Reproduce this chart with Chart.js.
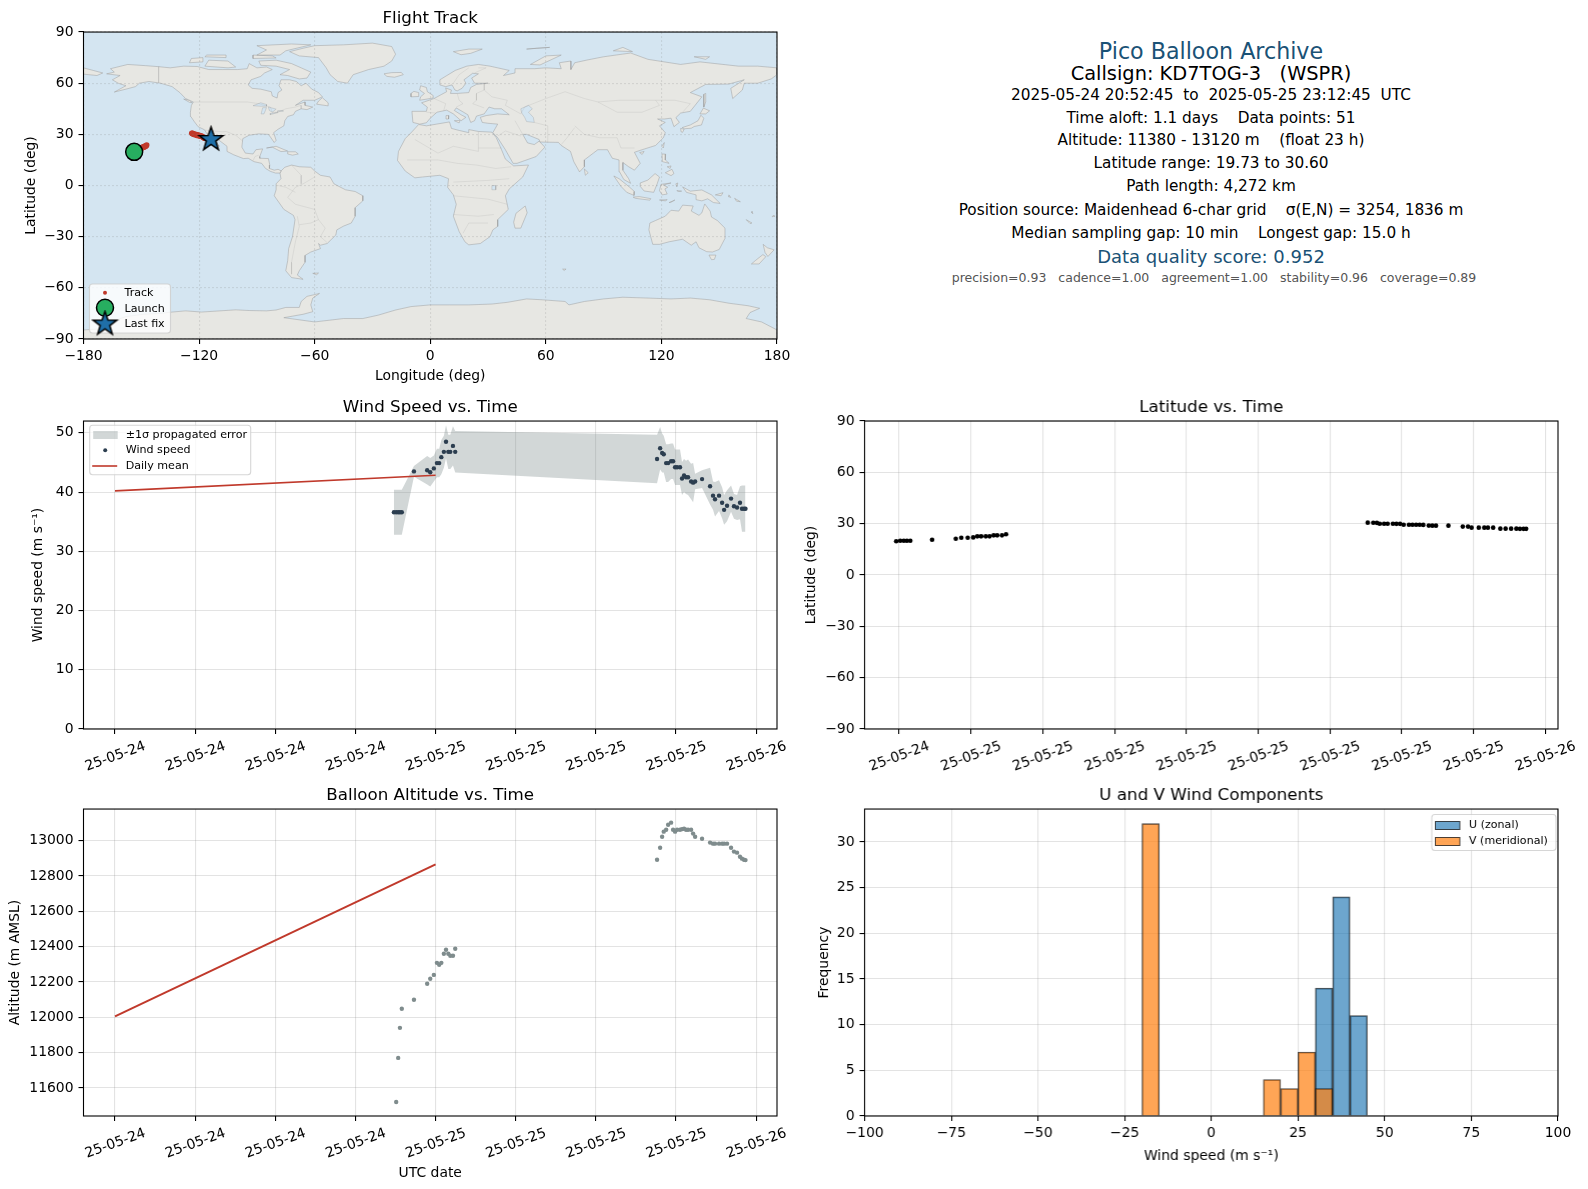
<!DOCTYPE html>
<html>
<head>
<meta charset="utf-8">
<title>Pico Balloon Archive</title>
<script src="https://cdn.jsdelivr.net/npm/chart.js@4/dist/chart.umd.min.js"></script>
<style>
html, body { margin: 0; background: #fff; }
body { position: relative; width: 1588px; height: 1189px; overflow: hidden; font-family: "DejaVu Sans", sans-serif; }
canvas { position: absolute; }
.info { position: absolute; left: 863px; width: 696px; text-align: center; white-space: pre; line-height: 1; transform: translateY(-50%); color: #000; font-size: 15.3px; }
.info.head { font-size: 22.2px; color: #1a5276; }
.info.call { font-size: 19.4px; }
.info.score { font-size: 18px; color: #1a5276; }
.info.small { font-size: 12.5px; color: #555; left: 866px; }
</style>
</head>
<body>
<div id="info"></div>
<canvas id="map"></canvas>
<canvas id="wind"></canvas>
<canvas id="lat"></canvas>
<canvas id="alt"></canvas>
<canvas id="hist"></canvas>
<script>
// hours since 2025-05-24 00:00 UTC
var hours = [20.88, 21.05, 21.2, 21.33, 21.47, 22.38, 23.37, 23.6, 23.87, 24.1, 24.27, 24.43, 24.62, 24.78, 24.95, 25.1, 25.3, 25.47,
    40.58, 40.81, 40.96, 41.08, 41.26, 41.41, 41.63, 41.78, 41.93, 42.08, 42.3, 42.45, 42.6, 42.75, 42.9, 43.13, 43.28, 43.43,
    43.95, 44.55, 44.77, 44.92, 45.22, 45.45, 45.6, 45.82, 46.12, 46.34, 46.57, 46.79, 46.94, 47.09, 47.2];
var windSpeed = [36.6, 36.6, 36.6, 36.6, 36.6, 43.5, 43.7, 43.35, 44.0, 44.9, 44.9, 45.9, 46.8, 48.5, 46.8, 46.8, 47.8, 46.8,
    45.6, 47.4, 46.6, 46.4, 44.9, 44.9, 45.2, 45.2, 44.2, 44.2, 44.2, 42.3, 42.8, 42.5, 42.5, 41.8, 41.6, 41.8,
    42.2, 41.0, 39.4, 38.8, 39.4, 38.2, 37.0, 37.7, 38.9, 37.6, 37.4, 38.2, 37.2, 37.2, 37.2];
var windErr = [3.8, 3.8, 3.8, 3.8, 3.8, 0.9, 2.4, 2.4, 2.2, 2.4, 2.4, 2.9, 2.7, 2.8, 2.9, 2.9, 3.3, 3.5,
    4.1, 3.6, 3.3, 3.1, 3.2, 3.2, 3.0, 3.0, 3.0, 3.0, 3.0, 2.8, 2.8, 2.8, 3.0, 3.0, 3.3, 1.3,
    1.5, 3.1, 2.4, 2.9, 2.6, 2.6, 2.5, 2.6, 2.2, 2.1, 2.1, 2.8, 3.9, 3.9, 3.9];
var latitude = [19.73, 20.0, 20.0, 20.05, 20.05, 20.6, 21.2, 21.8, 21.8, 22.0, 22.6, 22.6, 22.6, 22.6, 23.2, 23.2, 23.2, 23.8,
    30.6, 30.55, 30.5, 30.0, 30.0, 30.0, 29.95, 29.9, 29.9, 29.4, 29.4, 29.4, 29.4, 29.35, 29.3, 28.9, 28.85, 28.85,
    28.85, 28.3, 28.3, 27.7, 27.7, 27.7, 27.7, 27.7, 27.1, 27.1, 27.1, 27.1, 27.0, 27.0, 27.0];
var longitude = [-153.7, -153.3, -153.0, -152.7, -152.4, -151.6, -150.6, -150.2, -149.9, -149.6, -149.3, -149.0, -148.7, -148.4, -148.1, -147.8, -147.5, -147.2,
    -123.8, -123.5, -123.2, -122.9, -122.6, -122.3, -122.0, -121.7, -121.4, -121.1, -120.8, -120.5, -120.2, -119.9, -119.6, -119.3, -119.0, -118.7,
    -118.4, -118.0, -117.6, -117.3, -116.9, -116.5, -116.2, -115.9, -115.5, -115.1, -114.8, -114.5, -114.2, -114.0, -113.8];
var altitude = [null, 11520, 11770, 11940, 12048, 12099, 12190, 12218, 12240, 12308, 12297, 12308, 12360, 12382, 12360, 12348, 12348, 12388,
    12892, 12960, 13022, 13051, 13062, 13090, 13102, 13062, 13051, 13062, 13062, 13065, 13068, 13062, 13062, 13062, 13040, 13022,
    13011, 12989, 12983, 12983, 12983, 12983, 12983, 12983, 12960, 12938, 12932, 12909, 12898, 12892, 12890];

var meanHours = [0, 24];
var meanWind = [40.2, 42.85];
var meanAlt = [12005, 12866];

var launchLon = [-153.7], launchLat = [19.73];
var lastLon = [-113.8], lastLat = [27.0];

var binCentersU = [32.5, 37.5, 42.5];
var countsU = [14, 24, 11];
var binCentersV = [-17.5, 17.5, 22.5, 27.5, 32.5];
var countsV = [32, 4, 3, 7, 3];

var wideTicks = [0, 6, 12, 18, 24, 30, 36, 42, 48];
var wideLabels = ['25-05-24', '25-05-24', '25-05-24', '25-05-24', '25-05-25', '25-05-25', '25-05-25', '25-05-25', '25-05-26'];
var latTimeTicks = [21, 24, 27, 30, 33, 36, 39, 42, 45, 48];
var latTimeLabels = ['25-05-24', '25-05-25', '25-05-25', '25-05-25', '25-05-25', '25-05-25', '25-05-25', '25-05-25', '25-05-25', '25-05-26'];
var altTicks = [11600, 11800, 12000, 12200, 12400, 12600, 12800, 13000];
var windTicks = [0, 10, 20, 30, 40, 50];
var degTicksY = [-90, -60, -30, 0, 30, 60, 90];
var degTicksX = [-180, -120, -60, 0, 60, 120, 180];
var histTicksX = [-100, -75, -50, -25, 0, 25, 50, 75, 100];
var histTicksY = [0, 5, 10, 15, 20, 25, 30];

var infoLines = [
    ['head', 'Pico Balloon Archive', 51],
    ['call', 'Callsign: KD7TOG-3   (WSPR)', 74],
    ['', '2025-05-24 20:52:45  to  2025-05-25 23:12:45  UTC', 96],
    ['', 'Time aloft: 1.1 days    Data points: 51', 119],
    ['', 'Altitude: 11380 - 13120 m    (float 23 h)', 141],
    ['', 'Latitude range: 19.73 to 30.60', 164],
    ['', 'Path length: 4,272 km', 187],
    ['', 'Position source: Maidenhead 6-char grid    \u03c3(E,N) = 3254, 1836 m', 210.5],
    ['', 'Median sampling gap: 10 min    Longest gap: 15.0 h', 233.5],
    ['score', 'Data quality score: 0.952', 257],
    ['small', 'precision=0.93   cadence=1.00   agreement=1.00   stability=0.96   coverage=0.89', 278]
];

// coastlines, lon/lat
var landNorthAmerica = [[-168,65.5],[-164,66.5],[-166,68.5],[-157,71],[-148,70.3],[-141,69.7],[-135,69],[-128,70],[-121,69.8],[-115,68],[-108,68],[-100,68],[-95,68.5],[-94,71.5],[-90,69],[-85,69.5],[-82,68],[-86,66],[-88,64],[-93,62],[-94.5,59],[-92.5,57],[-88,56.5],[-82.5,55],[-82,52.5],[-79.5,51.3],[-79,54.5],[-77,56],[-78.5,58.5],[-77.5,62],[-73,62],[-69.5,61],[-67,58.5],[-64.5,60],[-61.5,56.5],[-58,54.5],[-56,52],[-60,50],[-66,50],[-70,47],[-65,49],[-65,47],[-61,46],[-64,44.5],[-67,45],[-70,43.5],[-71,41.5],[-74,40.5],[-75.5,38],[-76,35],[-79,33],[-81.3,31],[-80,26.5],[-81,25.2],[-82.7,28],[-84,30],[-89,30.3],[-94,29.5],[-97.3,27.5],[-97.8,22.5],[-96,19],[-92,18.5],[-90.5,21],[-87,21.5],[-88.5,17],[-88.5,16],[-84,15.8],[-83.3,12],[-83.5,10],[-81,9],[-79,9.5],[-77.4,8.6],[-78,7.3],[-80.3,7.3],[-83,8.3],[-85.5,10],[-87.5,13],[-91.5,14],[-94.5,16],[-97,15.8],[-102,18],[-105.5,20],[-105.5,23],[-109,26],[-112.8,30],[-114.8,31.8],[-113,28],[-110,24],[-109.5,23],[-112,25],[-115,28],[-116,30.5],[-117.2,32.7],[-120.5,34.5],[-122.5,37.5],[-124.3,40.5],[-124.5,43],[-124,47],[-123,49],[-127,51],[-130,54.5],[-134,58],[-140,60],[-146,61],[-151,60],[-153,58],[-158,56.5],[-164,54.8],[-158,58.5],[-162,60],[-165,62],[-161,64.5]];
var landSouthAmerica = [[-77.4,8.6],[-75.5,10.7],[-72,12],[-68,11],[-62,10.7],[-60,8.5],[-57,6],[-52,5],[-50,1],[-44,-2.5],[-39,-3.5],[-35,-6],[-35,-9],[-39,-13],[-39,-18],[-41,-22],[-45,-23.8],[-48.5,-26],[-49,-29],[-53.5,-34],[-57,-35],[-58,-34],[-57,-37],[-62,-39],[-65,-41],[-65,-45],[-68,-50],[-69,-52.5],[-66,-55],[-72,-54],[-75,-50],[-74,-44],[-73.5,-37],[-71.5,-30],[-70.2,-20],[-71,-17.5],[-76,-14],[-81,-6],[-80,-2.5],[-80,1],[-77.5,4],[-78,7.3]];
var landAfrica = [[-6,35.8],[-2,35],[10,37.3],[11,33.5],[15,32.3],[20,31],[20,32.8],[25,31.7],[32,31.3],[34.3,28],[37,21],[39,15.5],[43.3,11.5],[51,12],[48,5],[41,-2],[39,-6],[40.5,-14],[35,-20],[35,-24],[32.5,-26],[31,-30],[26,-34],[20,-34.8],[18,-33],[15,-27],[12,-18],[13.5,-11],[12,-5.5],[9,-1],[9.5,4],[5,6],[-4,5],[-8,4.5],[-13,8.5],[-17,14.7],[-16.5,20],[-13,27.5],[-9.5,31.5]];
var landEurasia = [[-9,37],[-9.5,43.5],[-2,43.5],[-1.5,46],[-4.5,48.5],[2,51],[6,53.5],[8.5,55],[8,57.2],[11,56],[10.5,54],[14,54],[20,54.5],[21,57.5],[24,59.3],[30,60],[23,60],[21.5,63],[25,65.5],[22,65.8],[17.5,62],[18.5,60],[16.5,57],[14,55.5],[12.8,56],[11.3,59],[8,58],[5,59],[5,62],[13,67.5],[19,70],[25,71],[31,70],[41,67.5],[38,64.5],[44,66],[44,68.5],[54,68.5],[60,69],[68,68.5],[67,72],[73,73],[73,68],[75,72],[81,73.5],[90,75.5],[104,77.7],[113,74],[130,71],[140,72.5],[160,70],[170,70],[180,69],[180,65],[177,62.5],[170,60],[163,60],[162,56],[157,51],[156,57],[163,62],[155,59.5],[143,59.3],[135,54.5],[141,52],[135,43.5],[130,42.5],[127.5,39.8],[129.3,37],[126.5,34.5],[125,39.5],[121.5,39],[118,39],[122,37],[119,35],[122,31],[121,28],[117,23.5],[110,21],[106,19.5],[109,13],[106,9],[103,11],[100,13.5],[100,9],[103,4],[104,1.3],[100.5,3.5],[98.3,8],[98,15],[94.5,16],[92,21],[87,21],[80,15],[80,11],[77.5,8],[74.5,14],[72.8,20],[68,23.5],[66.5,25.3],[57,25.5],[56.5,27],[50,30],[48,30],[50.5,25],[54,24],[56.5,26],[59.5,22.5],[55,17],[45,13],[43,13],[39,21],[35,28],[32.5,31],[35,36],[30,36.5],[27,37],[26,40],[29,41],[35,42],[41,41.5],[37,45],[33.5,45],[30.5,46],[28,42],[24,40.7],[23,38],[21,37],[19.5,41.5],[13.5,45.5],[12.5,44],[16,41.5],[18.5,40],[16,38],[12,42],[8.5,44.2],[3.5,43],[0,39.5],[-2,36.8],[-5.5,36]];
var landAustralia = [[114,-22],[113.5,-26],[115.5,-34.5],[119,-34.5],[124,-33],[131,-31.5],[135.5,-35],[138,-33],[139.5,-36.5],[143.5,-38.8],[146.5,-39],[150,-37.5],[153,-31],[153,-25],[149,-20.5],[146,-18.5],[145.3,-15],[142.5,-10.8],[141,-16],[139.5,-17.5],[135.5,-15],[136.5,-12],[131,-11.5],[129,-15],[125,-14.5],[122,-18],[117,-20.5]];
var landAntarctica = [[-180,-84.7],[-170,-84],[-163,-78.9],[-158,-76.9],[-149,-75.5],[-140,-75],[-135,-74.3],[-127,-73.5],[-118.7,-74.2],[-101,-72.9],[-94,-73.3],[-85,-73.5],[-80,-73],[-75,-71.5],[-68,-71.5],[-67,-68],[-64,-65],[-57.5,-63.3],[-61,-66],[-62,-70],[-61,-74],[-66,-75.5],[-76,-77.5],[-60,-80],[-45,-78],[-35,-78],[-27,-76],[-18,-73],[-10,-71],[0,-70],[10,-70],[20,-70],[32,-69.5],[40,-68.5],[50,-66.5],[58,-67],[70,-68],[72,-70],[80,-68],[90,-66.5],[100,-65.5],[113,-66],[125,-66.5],[135,-66],[145,-67],[155,-69],[165,-70.5],[171,-72],[166,-74.5],[164,-78],[172,-80],[180,-84.7],[180,-90],[-180,-90]];
var landIslands = [
    [[-73,78.5],[-66,80.5],[-60,82],[-45,82.5],[-30,83.5],[-20,81.5],[-18,77],[-20,73],[-24,70],[-32,68],[-40,65],[-43,60],[-48,61],[-52,65],[-54,69],[-58,75],[-68,76]],
    [[-80,73.5],[-72,71.5],[-67,69],[-62,66.5],[-64,63],[-68,62.5],[-74,64.5],[-78,65],[-73,68],[-80,70],[-88,70.5],[-89,73]],
    [[-117,70],[-105,69],[-101,69.5],[-105,73],[-115,73.5]],
    [[-125,72],[-118,72.5],[-118,75],[-124,74.5]],
    [[-90,76.5],[-78,76.5],[-75,79],[-62,82.5],[-72,83],[-90,82],[-85,79.5]],
    [[-92,74.5],[-80,74.8],[-82,76],[-92,76.5]],
    [[-117,75.5],[-106,75],[-106,76.5],[-116,76.5]],
    [[-59,47.7],[-53,46.7],[-53,48.5],[-56,51.5],[-58,49.5]],
    [[-85,22],[-80,23],[-74,20.2],[-77.5,19.9],[-82,22.5]],
    [[-74,19.8],[-70,19.8],[-68.5,18.5],[-71.5,17.8],[-74,18.5]],
    [[-128,50.7],[-125,50],[-123.5,48.5],[-125,48.8]],
    [[-24,65.5],[-20,66.2],[-15,66.3],[-14,65],[-18.5,63.5],[-22.5,64]],
    [[-5.5,50],[1.5,51.3],[1.5,52.8],[-1.5,55],[-2,57.5],[-5,58.5],[-5.5,56],[-3,54],[-5,52]],
    [[-10,52],[-6,52.2],[-6,54.5],[-8.5,55.2],[-10,54]],
    [[12.5,38],[15.5,38.2],[15,36.7]],
    [[8.2,41],[9.7,41],[9.5,39],[8.5,39]],
    [[130.8,34],[135,35.5],[139,38],[140.5,41.2],[142,39.5],[140.8,35.5],[137,34.6],[135.5,33.6],[132,33.3]],
    [[130,33.5],[131.8,33],[131,31.2],[130.2,31.5]],
    [[140,42],[141.8,45.4],[145,43.8],[143,42]],
    [[142,46],[143,49],[143,54],[142,53.5],[142,48]],
    [[120.2,23],[121.5,25.2],[121,22]],
    [[108.7,19.3],[111,20],[110,18.2]],
    [[80,9.7],[82,7.5],[80.5,6]],
    [[120.3,18.5],[122.2,18.4],[122,15],[124,13],[120.5,14]],
    [[122,7.5],[125.5,9.5],[126.5,7],[125,5.8]],
    [[123,11],[125,11.5],[124.5,10]],
    [[109,1.5],[113,3.2],[116.7,7],[119,5],[117.8,1],[116,-4],[111,-3.2],[109,-0.5]],
    [[95.3,5.6],[98,4],[103.5,-1],[106,-3.5],[105.8,-5.8],[102,-4],[99,-0.5]],
    [[105.3,-6.8],[108.5,-6.5],[114.5,-7.7],[114,-8.6],[106.5,-7.5]],
    [[119.8,0.7],[125,1.5],[121,0.3],[123.3,-1],[121.8,-2],[123,-5],[120.4,-5.5],[119,-3]],
    [[131,-0.8],[135,-3.3],[141,-2.6],[146,-5.5],[150.5,-10.5],[147,-10],[144,-7.8],[141,-9],[138,-8.3],[138,-5.5],[133,-4]],
    [[144.7,-40.8],[148.3,-40.8],[147.5,-43.3],[146,-43.5]],
    [[172.8,-34.5],[175,-36.5],[178.5,-37.7],[175.3,-41.6],[173.8,-39.3]],
    [[172.7,-40.5],[174.2,-41.7],[170.7,-46],[166.7,-46],[169,-43.8]],
    [[49.3,-12],[50.3,-16],[47,-25],[44,-25],[43.3,-21.5],[44.5,-16.3]],
    [[52,71],[57,70.7],[68,76.5],[60,76]],
    [[12,78.5],[20,80],[27,80],[21,77.5],[16,76.7]],
    [[-61,-51.5],[-58,-51.3],[-59,-52.3]],
    [[68.7,-49],[70.5,-49],[69.5,-49.8]],
    [[-180,69],[-175,67.5],[-170,66],[-173,64.5],[-180,65.3]],
    [[148,-5.5],[152,-4.2],[151,-6]],
    [[155,-5.5],[156,-7],[154.8,-6.5]],
    [[158,-7.5],[161,-9.5],[159,-9.2]],
    [[164,-20],[167,-22],[166,-22.3]],
    [[167,-15],[167.5,-16.5],[166.7,-15.8]],
    [[178,-17.5],[179,-18],[177.5,-18.3]],
    [[124,-10],[127,-8.5],[125,-9.8]],
    [[119,-8.5],[123,-8.3],[122,-9]],
    [[127.5,1],[128.5,1.5],[128,-0.8]],
    [[128,-3],[130.5,-3.3],[129,-3.5]],
    [[95,79],[105,78.5],[100,81]],
    [[137,75.5],[145,75.5],[143,74]],
    [[50,80],[62,81],[55,80.5]]
];
var lakes = [
    [[47,45],[51,47],[53,45],[51,43],[53.5,40],[54,37],[50,37.5],[49,40],[47.5,42.5]],
    [[-92,46.8],[-88,48.5],[-85,47.5],[-85,46.5],[-88,46.5]],
    [[-87.8,42],[-86.3,42],[-85,45.7],[-87,45.6]],
    [[-84,46],[-80,44.8],[-82,43],[-83.5,44]],
    [[-83,41.6],[-79,42.8],[-79,43],[-83,42.2]],
    [[-79.5,43.5],[-76.3,43.5],[-76.3,44],[-79,43.9]],
    [[32,0],[34,0],[34,-2.5],[32,-2.5]]
];
var borders = [
    [[-123,49],[-95,49],[-89,48],[-83,46],[-82,43],[-79,43],[-75,45],[-70,46],[-67,47],[-67,45]],
    [[-141,69.7],[-141,60.3]],
    [[-117,32.5],[-108,31.5],[-106,31.7],[-101,29.5],[-97.3,26]],
    [[-92,14.5],[-91,17],[-89,17.8]],
    [[-60,5],[-66,1],[-70,-1],[-74,-7],[-70,-11],[-60,-14],[-58,-20],[-54.5,-25],[-57,-30],[-53.5,-33.5]],
    [[-69,-18],[-68,-24],[-70,-33],[-72,-45],[-72,-52]],
    [[-79,0],[-75,-1],[-70,-4]],
    [[-72,12],[-67,6],[-67,1]],
    [[-58,-20],[-62,-22],[-68,-23]],
    [[28,60],[28,56],[32,52],[40,50],[39,47],[47,42],[49,46],[60,51],[70,55],[80,51],[87,49],[98,50],[107,50],[117,50],[127,50],[135,48],[131,43]],
    [[87,49],[97,43],[110,43],[119,47],[117,50]],
    [[75,35],[80,30],[88,28],[97,28],[99,22],[106,22]],
    [[68,24],[71,28],[75,34]],
    [[61,25],[61,35],[54,37]],
    [[44,38],[46,34],[48,30]],
    [[35,29],[39,32],[47,29]],
    [[-8,27],[4,19],[12,23],[25,20],[25,31.5]],
    [[25,22],[37,22]],
    [[-12,15],[4,15],[14,13],[24,12],[34,10],[42,11]],
    [[12,2],[30,3],[41,4]],
    [[12,-6],[30,-8],[40,-11]],
    [[12,-17],[25,-18],[33,-17]],
    [[17,-28],[20,-22],[30,-22]],
    [[-2,43],[3,42.5]],
    [[2,51],[8,48],[7,44]],
    [[14,54],[15,50],[17,48],[13.5,46]],
    [[24,54],[24,50],[22,48],[28,45.5]],
    [[24,54],[28,56]],
    [[12,60],[15,65],[20,69]],
    [[23,66],[29,69],[25,69]]
];

var FONT = '"DejaVu Sans", sans-serif';
var RED = '#c0392b';
var NAVY = '#2c3e50';
var SEA = '#d4e5f1';
var GRID = 'rgba(128,128,128,0.22)';
var BAND = 'rgba(127,140,141,0.35)';

Chart.defaults.font.family = FONT;
Chart.defaults.color = '#000';
Chart.defaults.animation = false;
Chart.defaults.plugins.tooltip.enabled = false;
Chart.defaults.plugins.legend.display = false;

function pts(xs, ys) {
    return xs.map(function(x, i) { return {x: x, y: ys[i] === null ? NaN : ys[i]}; });
}

function poly(list) {
    return list.concat([list[0]]).map(function(p) { return {x: p[0], y: p[1]}; });
}

function minusText(v) {
    return String(v).replace('-', '\u2212');
}

function makeStar(outer, inner) {
    var size = Math.ceil(outer * 2 + 4);
    var c = document.createElement('canvas');
    c.width = size;
    c.height = size;
    var g = c.getContext('2d');
    g.beginPath();
    for (var i = 0; i < 10; i++) {
        var r = i % 2 ? inner : outer;
        var a = -Math.PI / 2 + i * Math.PI / 5;
        g.lineTo(size / 2 + r * Math.cos(a), size / 2 + r * Math.sin(a));
    }
    g.closePath();
    g.fillStyle = '#1f6fa8';
    g.fill();
    g.lineWidth = 1.5;
    g.strokeStyle = '#000';
    g.stroke();
    return c;
}
var starBig = makeStar(12.5, 5);

// frame around the plot, and a matplotlib-like legend box
var framePlugin = {
    id: 'frame',
    beforeDraw: function(chart, args, opts) {
        if (!opts.background) return;
        var a = chart.chartArea;
        chart.ctx.fillStyle = opts.background;
        chart.ctx.fillRect(a.left, a.top, a.right - a.left, a.bottom - a.top);
    },
    afterDraw: function(chart, args, opts) {
        var a = chart.chartArea, ctx = chart.ctx;
        ctx.save();
        ctx.strokeStyle = '#000';
        ctx.lineWidth = 1.1;
        ctx.strokeRect(a.left, a.top, a.right - a.left, a.bottom - a.top);
        var lg = opts.legend;
        if (lg) {
            ctx.fillStyle = 'rgba(255,255,255,0.8)';
            ctx.strokeStyle = 'rgba(204,204,204,0.8)';
            ctx.lineWidth = 1.1;
            ctx.beginPath();
            ctx.roundRect(lg.x, lg.y, lg.w, lg.h, 3);
            ctx.fill();
            ctx.stroke();
            ctx.font = '11.1px ' + FONT;
            ctx.textBaseline = 'middle';
            lg.items.forEach(function(it) {
                it.draw(ctx, lg.x, lg.y + it.dy);
                ctx.fillStyle = '#000';
                ctx.fillText(it.label, lg.x + lg.textX, lg.y + it.dy);
            });
        }
        ctx.restore();
    }
};
Chart.register(framePlugin);

function dot(color, r) {
    return function(ctx, x, y) {
        ctx.fillStyle = color;
        ctx.beginPath();
        ctx.arc(x + 15.5, y, r, 0, Math.PI * 2);
        ctx.fill();
    };
}
function patch(fill, stroke) {
    return function(ctx, x, y) {
        ctx.fillStyle = fill;
        ctx.fillRect(x + 3.5, y - 4, 24.5, 8);
        if (stroke) {
            ctx.strokeStyle = stroke;
            ctx.lineWidth = 1;
            ctx.strokeRect(x + 3.5, y - 4, 24.5, 8);
        }
    };
}
function dash(color) {
    return function(ctx, x, y) {
        ctx.strokeStyle = color;
        ctx.lineWidth = 1.6;
        ctx.beginPath();
        ctx.moveTo(x + 2.5, y);
        ctx.lineTo(x + 27.5, y);
        ctx.stroke();
    };
}

// axis helper: fixed ticks, matplotlib look
function axis(min, max, ticks, labels, extra) {
    extra = extra || {};
    var horizontal = extra.horizontal;
    var cfg = {
        type: 'linear',
        min: min,
        max: max,
        offset: false,
        border: {display: false, dash: extra.dash || []},
        grid: {offset: false, color: extra.gridColor || GRID, lineWidth: 1.1, tickColor: '#000', tickLength: 5, tickWidth: 1.1, z: extra.gridZ || -1, drawTicks: true, tickBorderDash: []},
        afterBuildTicks: function(s) {
            s.ticks = ticks.map(function(v) { return {value: v}; });
        },
        ticks: {
            autoSkip: false,
            includeBounds: false,
            padding: horizontal ? 4 : 5,
            color: '#000',
            font: {size: 13.9},
            maxRotation: extra.rotation || 0,
            minRotation: extra.rotation || 0,
            labelOffset: extra.rotation ? 30 : 0,
            callback: function(v, i) { return labels ? labels[i] : minusText(v); }
        },
        afterFit: function(s) {
            if (horizontal) s.height = extra.size; else s.width = extra.size;
            s.paddingLeft = s.paddingRight = s.paddingTop = s.paddingBottom = 0;
        }
    };
    if (extra.title) {
        cfg.title = {display: true, text: extra.title, color: '#000', font: {size: 13.9}, padding: horizontal ? {top: 0, bottom: extra.titlePad} : {top: extra.titlePad, bottom: 0}};
    }
    return cfg;
}

// pixel box of each plot area
function panel(id, plot, cfg, xSize, ySize) {
    var titleH = 23, rightPad = 26;
    var left = plot.l - ySize, top = plot.t - titleH;
    var w = plot.r - plot.l + ySize + rightPad, h = plot.b - plot.t + titleH + xSize;
    var canvas = document.getElementById(id);
    canvas.style.left = left + 'px';
    canvas.style.top = top + 'px';
    canvas.width = w;
    canvas.height = h;
    canvas.style.width = w + 'px';
    canvas.style.height = h + 'px';
    cfg.options.responsive = false;
    cfg.options.maintainAspectRatio = false;
    cfg.options.devicePixelRatio = 1;
    cfg.options.layout = {padding: {left: 0, right: rightPad, top: 0, bottom: 0}};
    cfg.options.plugins.title = {display: true, text: cfg.titleText, fullSize: false, color: '#000', font: {size: 16.7, weight: 'normal'}, padding: {top: 0, bottom: 3}};
    var lg = cfg.options.plugins.frame && cfg.options.plugins.frame.legend;
    if (lg) {
        lg.x -= left;
        lg.y -= top;
    }
    return new Chart(canvas, cfg);
}

var plotMap = {l: 83.5, t: 32, r: 777, b: 339};
var plotWind = {l: 83.5, t: 421, r: 777, b: 729};
var plotLat = {l: 864.5, t: 421, r: 1557.5, b: 729};
var plotAlt = {l: 83.5, t: 808.5, r: 777, b: 1116};
var plotHist = {l: 864.5, t: 808.5, r: 1557.5, b: 1116};

// ----- info panel
var info = document.getElementById('info');
infoLines.forEach(function(row) {
    var d = document.createElement('div');
    d.className = 'info ' + row[0];
    d.style.top = row[2] + 'px';
    d.textContent = row[1];
    info.appendChild(d);
});

// ----- flight track map
var mapSets = [];
[landNorthAmerica, landSouthAmerica, landAfrica, landEurasia, landAustralia, landAntarctica].concat(landIslands).forEach(function(shape) {
    mapSets.push({data: poly(shape), showLine: true, fill: 'shape', backgroundColor: '#e7e7e3', borderColor: 'rgba(150,150,150,0.45)', borderWidth: 1, pointRadius: 0, order: 10});
});
lakes.forEach(function(shape) {
    mapSets.push({data: poly(shape), showLine: true, fill: 'shape', backgroundColor: SEA, borderColor: 'rgba(150,150,150,0.45)', borderWidth: 0.7, pointRadius: 0, order: 9});
});
borders.forEach(function(line) {
    mapSets.push({data: line.map(function(p) { return {x: p[0], y: p[1]}; }), showLine: true, fill: false, borderColor: 'rgba(150,150,150,0.25)', borderWidth: 0.7, pointRadius: 0, order: 8});
});
mapSets.push({data: pts(longitude, latitude), pointRadius: 2.8, pointBackgroundColor: RED, pointBorderWidth: 0, order: 3});
mapSets.push({data: pts(launchLon, launchLat), pointRadius: 8.5, pointBackgroundColor: '#27ae60', pointBorderColor: '#000', pointBorderWidth: 1.5, order: 2});
mapSets.push({data: pts(lastLon, lastLat), pointStyle: starBig, order: 1});

panel('map', plotMap, {
    type: 'scatter',
    titleText: 'Flight Track',
    data: {datasets: mapSets},
    options: {
        scales: {
            x: axis(-180, 180, degTicksX, null, {horizontal: true, size: 60, title: 'Longitude (deg)', titlePad: 14, dash: [2, 2], gridZ: 1, gridColor: 'rgba(128,128,128,0.2)'}),
            y: axis(-90, 90, degTicksY, null, {size: 83.5, title: 'Latitude (deg)', titlePad: 23, dash: [2, 2], gridZ: 1, gridColor: 'rgba(128,128,128,0.2)'})
        },
        plugins: {frame: {background: SEA, legend: {x: 89.5, y: 284, w: 81, h: 49, textX: 35, items: [
            {label: 'Track', dy: 8.8, draw: dot(RED, 2)},
            {label: 'Launch', dy: 24.8, draw: function(ctx, x, y) {
                ctx.fillStyle = '#27ae60';
                ctx.strokeStyle = '#000';
                ctx.lineWidth = 1.5;
                ctx.beginPath();
                ctx.arc(x + 15.5, y - 1, 8.5, 0, Math.PI * 2);
                ctx.fill();
                ctx.stroke();
            }},
            {label: 'Last fix', dy: 40, draw: function(ctx, x, y) {
                ctx.drawImage(starBig, x + 15.5 - starBig.width / 2, y - starBig.height / 2);
            }}
        ]}}}
    }
}, 60, 83.5);

// ----- wind speed
var windUpper = windSpeed.map(function(v, i) { return v + windErr[i]; });
var windLower = windSpeed.map(function(v, i) { return v - windErr[i]; });
panel('wind', plotWind, {
    type: 'scatter',
    titleText: 'Wind Speed vs. Time',
    data: {datasets: [
        {data: pts(meanHours, meanWind), showLine: true, borderColor: RED, borderWidth: 1.6, pointRadius: 0, order: 2},
        {data: pts(hours, windSpeed), pointRadius: 2.2, pointBackgroundColor: NAVY, pointBorderWidth: 0, order: 1},
        {data: pts(hours, windUpper), showLine: true, fill: '+1', backgroundColor: BAND, borderWidth: 0, borderColor: 'rgba(0,0,0,0)', pointRadius: 0, order: 5},
        {data: pts(hours, windLower), showLine: true, fill: false, borderWidth: 0, borderColor: 'rgba(0,0,0,0)', pointRadius: 0, order: 5}
    ]},
    options: {
        scales: {
            x: axis(-2.36, 49.56, wideTicks, wideLabels, {horizontal: true, size: 50, rotation: 20}),
            y: axis(0, 52, windTicks, null, {size: 83.5, title: 'Wind speed (m s\u207b\u00b9)', titlePad: 30})
        },
        plugins: {frame: {legend: {x: 89.7, y: 425.3, w: 161, h: 49.4, textX: 36, items: [
            {label: '\u00b11\u03c3 propagated error', dy: 9.7, draw: patch(BAND)},
            {label: 'Wind speed', dy: 25, draw: dot(NAVY, 2)},
            {label: 'Daily mean', dy: 40.7, draw: dash(RED)}
        ]}}}
    }
}, 50, 83.5);

// ----- latitude
panel('lat', plotLat, {
    type: 'scatter',
    titleText: 'Latitude vs. Time',
    data: {datasets: [
        {data: pts(hours, latitude), pointRadius: 2.3, pointBackgroundColor: '#000', pointBorderWidth: 0}
    ]},
    options: {
        scales: {
            x: axis(19.56, 48.53, latTimeTicks, latTimeLabels, {horizontal: true, size: 50, rotation: 20}),
            y: axis(-90, 90, degTicksY, null, {size: 83.5, title: 'Latitude (deg)', titlePad: 22})
        },
        plugins: {frame: {}}
    }
}, 50, 83.5);

// ----- altitude
panel('alt', plotAlt, {
    type: 'scatter',
    titleText: 'Balloon Altitude vs. Time',
    data: {datasets: [
        {data: pts(meanHours, meanAlt), showLine: true, borderColor: RED, borderWidth: 2, pointRadius: 0, order: 2},
        {data: pts(hours, altitude), pointRadius: 2.2, pointBackgroundColor: '#7f8c8d', pointBorderWidth: 0, order: 1}
    ]},
    options: {
        scales: {
            x: axis(-2.36, 49.56, wideTicks, wideLabels, {horizontal: true, size: 67, rotation: 20, title: 'UTC date', titlePad: 1}),
            y: axis(11441, 13179, altTicks, null, {size: 83.5, title: 'Altitude (m AMSL)', titlePad: 7})
        },
        plugins: {frame: {}}
    }
}, 67, 83.5);

// ----- wind component histogram
var UFILL = 'rgba(31,119,180,0.65)', VFILL = 'rgba(255,127,14,0.7)', EDGE = 'rgba(0,0,0,0.7)';
panel('hist', plotHist, {
    type: 'bar',
    titleText: 'U and V Wind Components',
    data: {datasets: [
        {data: pts(binCentersU, countsU), backgroundColor: UFILL, borderColor: EDGE, borderWidth: 1.1, grouped: false, barPercentage: 1, categoryPercentage: 1, order: 2},
        {data: pts(binCentersV, countsV), backgroundColor: VFILL, borderColor: EDGE, borderWidth: 1.1, grouped: false, barPercentage: 1, categoryPercentage: 1, order: 1}
    ]},
    options: {
        scales: {
            x: axis(-100, 100, histTicksX, null, {horizontal: true, size: 67, title: 'Wind speed (m s\u207b\u00b9)', titlePad: 18}),
            y: axis(0, 33.6, histTicksY, null, {size: 83.5, title: 'Frequency', titlePad: 35})
        },
        plugins: {frame: {legend: {x: 1431, y: 814, w: 124, h: 36, textX: 37, items: [
            {label: 'U (zonal)', dy: 11, draw: patch(UFILL, EDGE)},
            {label: 'V (meridional)', dy: 27, draw: patch(VFILL, EDGE)}
        ]}}}
    }
}, 67, 83.5);
</script>
</body>
</html>
